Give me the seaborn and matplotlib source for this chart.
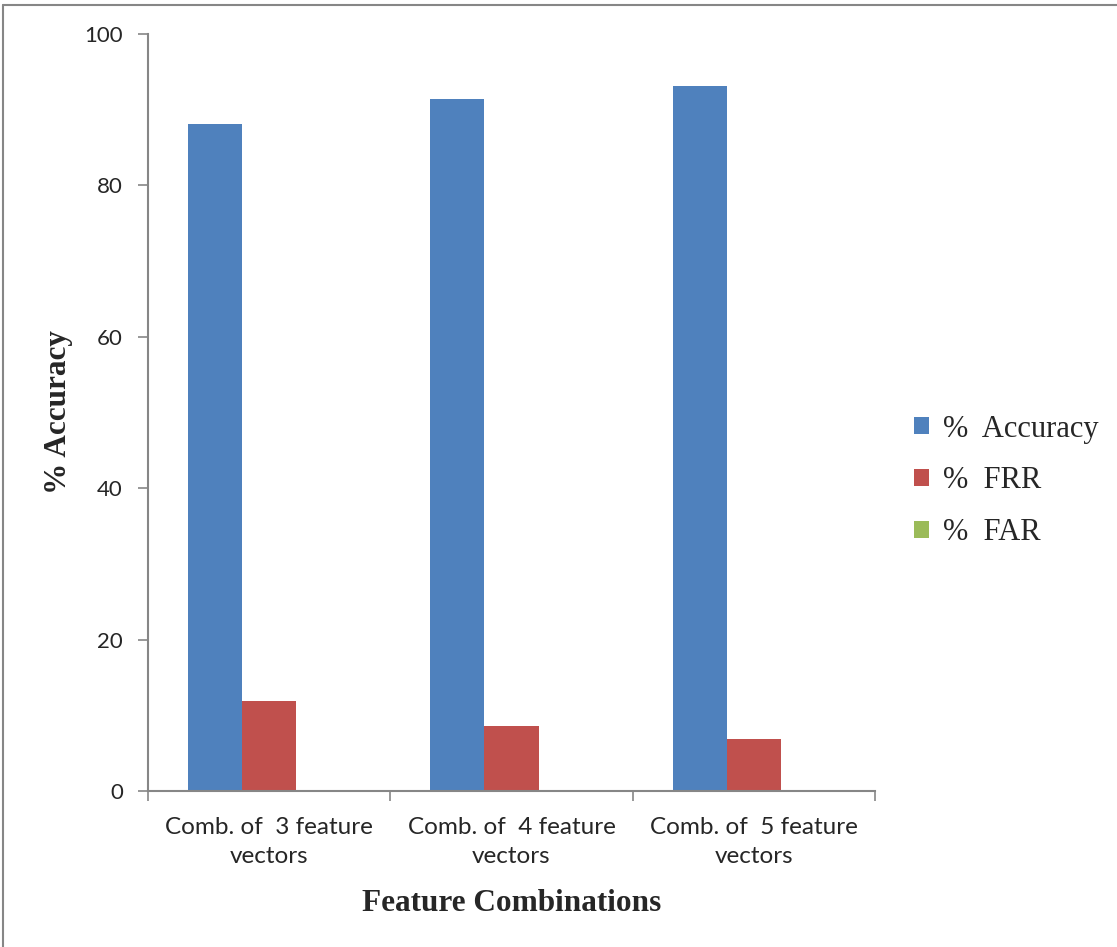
import matplotlib
matplotlib.use("Agg")
import matplotlib.pyplot as plt
from matplotlib.lines import Line2D
from matplotlib.patches import Patch
import seaborn as sns
import pandas as pd

# Data
categories = ["Comb. of  3 feature\nvectors", "Comb. of  4 feature\nvectors", "Comb. of  5 feature\nvectors"]
series_names = ["% Accuracy", "% FRR", "% FAR"]
accuracy = [88.1, 91.4, 93.1]
frr = [11.9, 8.6, 6.9]
far = [0.0, 0.0, 0.0]
colors = ["#4F81BD", "#C0504D", "#9BBB59"]

rows = []
for name, vals in zip(series_names, [accuracy, frr, far]):
    for cat, v in zip(categories, vals):
        rows.append({"combo": cat, "metric": name, "value": v})
df = pd.DataFrame(rows)

sns.set_theme(style="white")
plt.rcParams["font.family"] = ["Lato", "DejaVu Sans"]

fig = plt.figure(figsize=(11.17, 9.47), dpi=100)
ax = fig.add_axes([148 / 1117, 1 - 791 / 947, (875 - 148) / 1117, (791 - 34) / 947])

sns.barplot(data=df, x="combo", y="value", hue="metric", order=categories,
            hue_order=series_names, palette=colors, width=0.67, saturation=1,
            errorbar=None, ax=ax, legend=False, edgecolor="none")

ax.set_ylim(0, 100)
ax.set_xlim(-0.5, 2.5)
ax.set_yticks([0, 20, 40, 60, 80, 100])
ax.set_xticks([-0.5, 0.5, 1.5, 2.5], minor=False)
ax.set_xticklabels([])
ax.set_xticks([0, 1, 2], minor=True)
ax.set_xticklabels(categories, minor=True, fontsize=17.5)
for lbl in ax.get_xticklabels(minor=True):
    lbl.set_linespacing(1.45)
ax.tick_params(axis="x", which="minor", length=0, pad=19)
ax.tick_params(axis="x", which="major", length=7, width=1.2, color="#868686", direction="out")
ax.tick_params(axis="y", length=7, width=1.2, color="#868686", direction="out", labelsize=16, pad=11)
ax.xaxis.set_ticks_position("bottom")
ax.yaxis.set_ticks_position("left")

for side in ["top", "right"]:
    ax.spines[side].set_visible(False)
for side in ["left", "bottom"]:
    ax.spines[side].set_color("#868686")
    ax.spines[side].set_linewidth(1.5)

ax.set_xlabel("Feature Combinations", fontsize=22.5, fontweight="bold",
              family="Liberation Serif", labelpad=16)
ax.set_ylabel("% Accuracy", fontsize=22.5, fontweight="bold",
              family="Liberation Serif", labelpad=8)

handles = [Patch(facecolor=c, edgecolor="none") for c in colors]
fig.legend(handles, ["%  Accuracy", "%  FRR", "%  FAR"], loc="center left",
           bbox_to_anchor=(886 / 1117, 1 - 481 / 947), frameon=False,
           prop={"family": "Liberation Serif", "size": 22},
           handlelength=0.5, handleheight=0.5, handletextpad=0.45, labelspacing=0.75)

# outer chart frame
fig.add_artist(Line2D([3 / 1117, 3 / 1117], [0, 1 - 5 / 947], transform=fig.transFigure,
                      color="#868686", linewidth=1.5))
fig.add_artist(Line2D([3 / 1117, 1], [1 - 5 / 947, 1 - 5 / 947], transform=fig.transFigure,
                      color="#868686", linewidth=1.5))

fig.savefig("out.png", dpi=100, facecolor="white")
